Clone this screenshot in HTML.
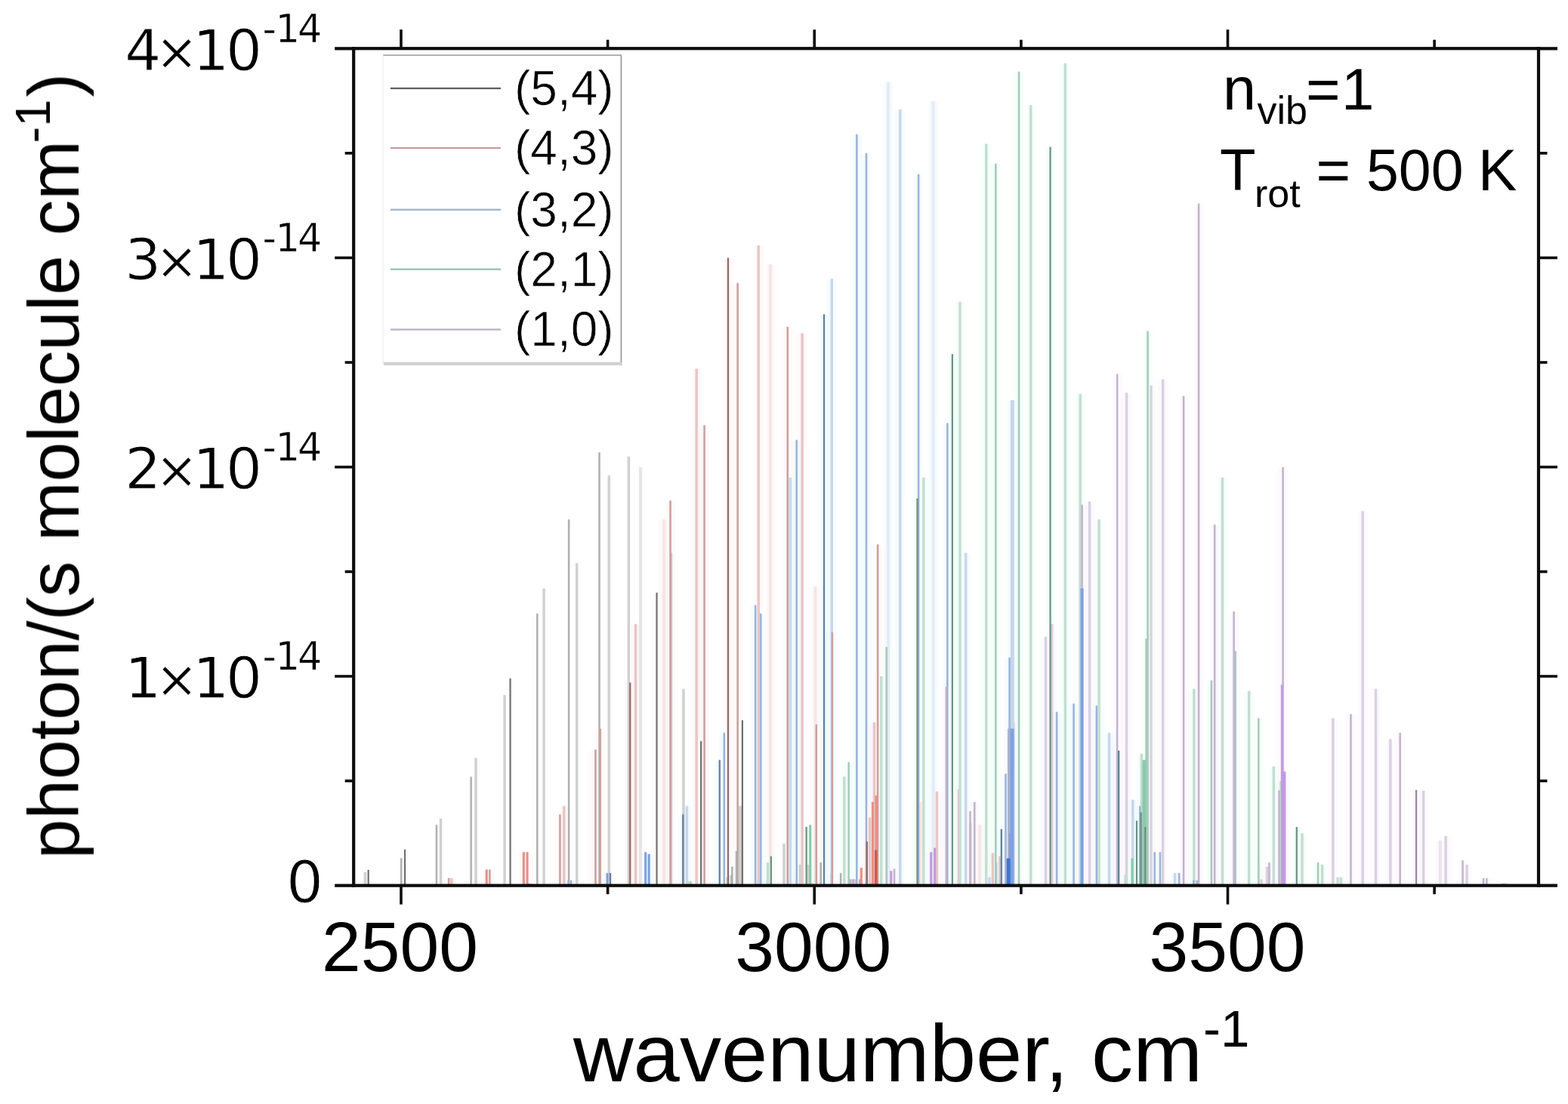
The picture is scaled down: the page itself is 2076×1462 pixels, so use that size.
<!DOCTYPE html>
<html><head><meta charset="utf-8"><title>OH vibrational bands</title>
<style>
html,body{margin:0;padding:0;background:#fff;}
svg{display:block}
text{font-family:"Liberation Sans",sans-serif;fill:#000}
.dj{font-family:"DejaVu Sans","Liberation Sans",sans-serif}
</style></head><body>
<svg width="2076" height="1462" viewBox="0 0 2076 1462">
<defs>
<filter id="hb" filterUnits="userSpaceOnUse" x="0" y="0" width="2076" height="1462"><feGaussianBlur stdDeviation="2.4 0.5"/></filter>
<filter id="b" filterUnits="userSpaceOnUse" x="0" y="0" width="2076" height="1462"><feGaussianBlur stdDeviation="0.5 0.6"/></filter>
<filter id="ab" filterUnits="userSpaceOnUse" x="0" y="0" width="2076" height="1462"><feGaussianBlur stdDeviation="0.6"/></filter>
<filter id="tb" filterUnits="userSpaceOnUse" x="0" y="0" width="2076" height="1462"><feGaussianBlur stdDeviation="0.55"/></filter></defs>
<rect width="2076" height="1462" fill="#fff"/>
<g>
<g filter="url(#hb)">
<rect x="1054.3" y="1146.0" width="10.0" height="26.7" fill="#fdfdfd"/>
<rect x="900.0" y="913.2" width="10.0" height="259.5" fill="#fdfdfd"/>
<rect x="1081.7" y="1143.2" width="10.0" height="29.5" fill="#fdfdfd"/>
<rect x="864.5" y="785.8" width="10.0" height="386.9" fill="#fdfdfd"/>
<rect x="1108.1" y="1157.1" width="10.0" height="15.6" fill="#fdfdfd"/>
<rect x="827.4" y="605.6" width="10.0" height="567.1" fill="#fdfdfd"/>
<rect x="1133.2" y="1165.4" width="10.0" height="7.3" fill="#fdfdfd"/>
<rect x="788.5" y="600.1" width="10.0" height="572.6" fill="#fdfdfd"/>
<rect x="1156.8" y="1170.4" width="10.0" height="2.3" fill="#fdfdfd"/>
<rect x="748.1" y="688.8" width="10.0" height="483.9" fill="#fdfdfd"/>
<rect x="706.3" y="813.5" width="10.0" height="359.2" fill="#fdfdfd"/>
<rect x="663.1" y="921.5" width="10.0" height="251.2" fill="#fdfdfd"/>
<rect x="618.6" y="1029.6" width="10.0" height="143.1" fill="#fdfdfd"/>
<rect x="573.0" y="1093.3" width="10.0" height="79.4" fill="#fdfdfd"/>
<rect x="526.2" y="1137.4" width="10.0" height="35.3" fill="#fdfdfd"/>
<rect x="478.4" y="1156.0" width="10.0" height="16.7" fill="#fdfdfd"/>
<rect x="1033.0" y="1118.3" width="10.0" height="54.4" fill="#fdfdfd"/>
<rect x="923.2" y="982.5" width="10.0" height="190.2" fill="#fdfdfd"/>
<rect x="1065.5" y="1146.0" width="10.0" height="26.7" fill="#fdfdfd"/>
<rect x="883.6" y="733.1" width="10.0" height="439.6" fill="#fdfdfd"/>
<rect x="1095.8" y="1157.1" width="10.0" height="15.6" fill="#fdfdfd"/>
<rect x="842.9" y="619.5" width="10.0" height="553.2" fill="#fdfdfd"/>
<rect x="1123.8" y="1165.4" width="10.0" height="7.3" fill="#fdfdfd"/>
<rect x="801.3" y="630.6" width="10.0" height="542.1" fill="#fdfdfd"/>
<rect x="1149.7" y="1170.4" width="10.0" height="2.3" fill="#fdfdfd"/>
<rect x="758.7" y="747.0" width="10.0" height="425.7" fill="#fdfdfd"/>
<rect x="715.1" y="780.2" width="10.0" height="392.5" fill="#fdfdfd"/>
<rect x="670.6" y="899.4" width="10.0" height="273.3" fill="#fdfdfd"/>
<rect x="625.0" y="1004.7" width="10.0" height="168.0" fill="#fdfdfd"/>
<rect x="578.5" y="1085.0" width="10.0" height="87.7" fill="#fdfdfd"/>
<rect x="531.1" y="1126.0" width="10.0" height="46.7" fill="#fdfdfd"/>
<rect x="482.7" y="1152.9" width="10.0" height="19.8" fill="#fdfdfd"/>
<rect x="1235.4" y="1049.0" width="10.0" height="123.7" fill="#fff5f5"/>
<rect x="1074.6" y="777.4" width="10.0" height="395.3" fill="#fff5f5"/>
<rect x="1264.3" y="1046.2" width="10.0" height="126.5" fill="#fff5f5"/>
<rect x="1037.8" y="433.8" width="10.0" height="738.9" fill="#fff5f5"/>
<rect x="1292.2" y="1093.3" width="10.0" height="79.4" fill="#fff5f5"/>
<rect x="999.2" y="325.8" width="10.0" height="846.9" fill="#fff5f5"/>
<rect x="1318.8" y="1134.9" width="10.0" height="37.8" fill="#fff5f5"/>
<rect x="959.0" y="342.4" width="10.0" height="830.3" fill="#fff5f5"/>
<rect x="1344.0" y="1165.4" width="10.0" height="7.3" fill="#fff5f5"/>
<rect x="917.2" y="489.3" width="10.0" height="683.4" fill="#fff5f5"/>
<rect x="873.9" y="688.8" width="10.0" height="483.9" fill="#fff5f5"/>
<rect x="829.3" y="904.9" width="10.0" height="267.8" fill="#fff5f5"/>
<rect x="783.4" y="993.6" width="10.0" height="179.1" fill="#fff5f5"/>
<rect x="736.4" y="1079.5" width="10.0" height="93.2" fill="#fff5f5"/>
<rect x="688.3" y="1129.4" width="10.0" height="43.3" fill="#fff5f5"/>
<rect x="639.2" y="1152.4" width="10.0" height="20.3" fill="#fff5f5"/>
<rect x="589.2" y="1163.7" width="10.0" height="9.0" fill="#fff5f5"/>
<rect x="1213.5" y="1062.9" width="10.0" height="109.8" fill="#fff5f5"/>
<rect x="1096.9" y="838.4" width="10.0" height="334.3" fill="#fff5f5"/>
<rect x="1057.1" y="442.2" width="10.0" height="730.5" fill="#fff5f5"/>
<rect x="1279.7" y="1090.6" width="10.0" height="82.1" fill="#fff5f5"/>
<rect x="1014.8" y="350.7" width="10.0" height="822.0" fill="#fff5f5"/>
<rect x="1309.4" y="1130.7" width="10.0" height="42.0" fill="#fff5f5"/>
<rect x="971.7" y="375.7" width="10.0" height="797.0" fill="#fff5f5"/>
<rect x="1336.8" y="1165.4" width="10.0" height="7.3" fill="#fff5f5"/>
<rect x="927.6" y="564.1" width="10.0" height="608.6" fill="#fff5f5"/>
<rect x="882.5" y="663.8" width="10.0" height="508.9" fill="#fff5f5"/>
<rect x="836.6" y="827.3" width="10.0" height="345.4" fill="#fff5f5"/>
<rect x="789.7" y="965.9" width="10.0" height="206.8" fill="#fff5f5"/>
<rect x="741.8" y="1068.4" width="10.0" height="104.3" fill="#fff5f5"/>
<rect x="693.0" y="1129.4" width="10.0" height="43.3" fill="#fff5f5"/>
<rect x="643.3" y="1152.4" width="10.0" height="20.3" fill="#fff5f5"/>
<rect x="592.8" y="1163.7" width="10.0" height="9.0" fill="#fff5f5"/>
<rect x="1416.6" y="932.6" width="10.0" height="240.1" fill="#f1f9ff"/>
<rect x="1249.3" y="561.3" width="10.0" height="611.4" fill="#f1f9ff"/>
<rect x="1446.9" y="935.4" width="10.0" height="237.3" fill="#f1f9ff"/>
<rect x="1211.1" y="231.6" width="10.0" height="941.1" fill="#f1f9ff"/>
<rect x="1476.2" y="995.0" width="10.0" height="177.7" fill="#f1f9ff"/>
<rect x="1171.1" y="109.6" width="10.0" height="1063.1" fill="#f1f9ff"/>
<rect x="1504.3" y="1068.4" width="10.0" height="104.3" fill="#f1f9ff"/>
<rect x="1129.4" y="178.9" width="10.0" height="993.8" fill="#f1f9ff"/>
<rect x="1531.0" y="1129.4" width="10.0" height="43.3" fill="#f1f9ff"/>
<rect x="1086.0" y="417.2" width="10.0" height="755.5" fill="#f1f9ff"/>
<rect x="1556.2" y="1157.1" width="10.0" height="15.6" fill="#f1f9ff"/>
<rect x="1041.3" y="633.4" width="10.0" height="539.3" fill="#f1f9ff"/>
<rect x="1579.7" y="1166.8" width="10.0" height="5.9" fill="#f1f9ff"/>
<rect x="995.1" y="802.4" width="10.0" height="370.3" fill="#f1f9ff"/>
<rect x="947.8" y="1007.4" width="10.0" height="165.3" fill="#f1f9ff"/>
<rect x="899.3" y="1079.5" width="10.0" height="93.2" fill="#f1f9ff"/>
<rect x="849.7" y="1129.4" width="10.0" height="43.3" fill="#f1f9ff"/>
<rect x="799.1" y="1157.1" width="10.0" height="15.6" fill="#f1f9ff"/>
<rect x="747.5" y="1166.8" width="10.0" height="5.9" fill="#f1f9ff"/>
<rect x="695.2" y="1170.9" width="10.0" height="1.8" fill="#f1f9ff"/>
<rect x="1394.1" y="943.7" width="10.0" height="229.0" fill="#f1f9ff"/>
<rect x="1273.7" y="733.1" width="10.0" height="439.6" fill="#f1f9ff"/>
<rect x="1427.5" y="780.2" width="10.0" height="392.5" fill="#f1f9ff"/>
<rect x="1230.7" y="134.6" width="10.0" height="1038.1" fill="#f1f9ff"/>
<rect x="1463.6" y="971.4" width="10.0" height="201.3" fill="#f1f9ff"/>
<rect x="1186.8" y="145.7" width="10.0" height="1027.0" fill="#f1f9ff"/>
<rect x="1494.8" y="1060.1" width="10.0" height="112.6" fill="#f1f9ff"/>
<rect x="1142.0" y="203.8" width="10.0" height="968.9" fill="#f1f9ff"/>
<rect x="1523.8" y="1129.4" width="10.0" height="43.3" fill="#f1f9ff"/>
<rect x="1096.3" y="370.1" width="10.0" height="802.6" fill="#f1f9ff"/>
<rect x="1550.6" y="1157.1" width="10.0" height="15.6" fill="#f1f9ff"/>
<rect x="1049.8" y="583.5" width="10.0" height="589.2" fill="#f1f9ff"/>
<rect x="1575.3" y="1166.8" width="10.0" height="5.9" fill="#f1f9ff"/>
<rect x="1002.3" y="813.5" width="10.0" height="359.2" fill="#f1f9ff"/>
<rect x="953.8" y="971.4" width="10.0" height="201.3" fill="#f1f9ff"/>
<rect x="904.5" y="1068.4" width="10.0" height="104.3" fill="#f1f9ff"/>
<rect x="854.2" y="1132.1" width="10.0" height="40.6" fill="#f1f9ff"/>
<rect x="803.0" y="1157.1" width="10.0" height="15.6" fill="#f1f9ff"/>
<rect x="751.1" y="1166.8" width="10.0" height="5.9" fill="#f1f9ff"/>
<rect x="698.3" y="1170.9" width="10.0" height="1.8" fill="#f1f9ff"/>
<rect x="1598.9" y="902.1" width="10.0" height="270.6" fill="#f0fff8"/>
<rect x="1425.2" y="522.5" width="10.0" height="650.2" fill="#f0fff8"/>
<rect x="1630.6" y="863.3" width="10.0" height="309.4" fill="#f0fff8"/>
<rect x="1385.6" y="195.5" width="10.0" height="977.2" fill="#f0fff8"/>
<rect x="1661.4" y="952.0" width="10.0" height="220.7" fill="#f0fff8"/>
<rect x="1344.0" y="95.8" width="10.0" height="1076.9" fill="#f0fff8"/>
<rect x="1690.9" y="1035.2" width="10.0" height="137.5" fill="#f0fff8"/>
<rect x="1300.8" y="191.4" width="10.0" height="981.3" fill="#f0fff8"/>
<rect x="1719.0" y="1104.4" width="10.0" height="68.3" fill="#f0fff8"/>
<rect x="1255.9" y="469.9" width="10.0" height="702.8" fill="#f0fff8"/>
<rect x="1745.6" y="1146.0" width="10.0" height="26.7" fill="#f0fff8"/>
<rect x="1209.5" y="661.1" width="10.0" height="511.6" fill="#f0fff8"/>
<rect x="1770.5" y="1162.6" width="10.0" height="10.1" fill="#f0fff8"/>
<rect x="1161.8" y="896.6" width="10.0" height="276.1" fill="#f0fff8"/>
<rect x="1112.8" y="1029.6" width="10.0" height="143.1" fill="#f0fff8"/>
<rect x="1062.7" y="1096.1" width="10.0" height="76.6" fill="#f0fff8"/>
<rect x="1011.4" y="1143.2" width="10.0" height="29.5" fill="#f0fff8"/>
<rect x="959.2" y="1159.8" width="10.0" height="12.9" fill="#f0fff8"/>
<rect x="906.1" y="1168.2" width="10.0" height="4.5" fill="#f0fff8"/>
<rect x="852.1" y="1171.5" width="10.0" height="1.2" fill="#f0fff8"/>
<rect x="1575.9" y="913.2" width="10.0" height="259.5" fill="#f0fff8"/>
<rect x="1450.1" y="688.8" width="10.0" height="483.9" fill="#f0fff8"/>
<rect x="1613.5" y="633.4" width="10.0" height="539.3" fill="#f0fff8"/>
<rect x="1405.4" y="84.7" width="10.0" height="1088.0" fill="#f0fff8"/>
<rect x="1648.6" y="916.0" width="10.0" height="256.7" fill="#f0fff8"/>
<rect x="1359.7" y="140.1" width="10.0" height="1032.6" fill="#f0fff8"/>
<rect x="1681.4" y="1015.8" width="10.0" height="156.9" fill="#f0fff8"/>
<rect x="1313.3" y="217.7" width="10.0" height="955.0" fill="#f0fff8"/>
<rect x="1711.8" y="1096.1" width="10.0" height="76.6" fill="#f0fff8"/>
<rect x="1266.0" y="400.6" width="10.0" height="772.1" fill="#f0fff8"/>
<rect x="1740.0" y="1143.2" width="10.0" height="29.5" fill="#f0fff8"/>
<rect x="1217.8" y="633.4" width="10.0" height="539.3" fill="#f0fff8"/>
<rect x="1766.1" y="1162.6" width="10.0" height="10.1" fill="#f0fff8"/>
<rect x="1168.7" y="857.8" width="10.0" height="314.9" fill="#f0fff8"/>
<rect x="1118.7" y="1010.2" width="10.0" height="162.5" fill="#f0fff8"/>
<rect x="1067.7" y="1093.3" width="10.0" height="79.4" fill="#f0fff8"/>
<rect x="1015.8" y="1134.9" width="10.0" height="37.8" fill="#f0fff8"/>
<rect x="963.1" y="1159.8" width="10.0" height="12.9" fill="#f0fff8"/>
<rect x="909.5" y="1168.2" width="10.0" height="4.5" fill="#f0fff8"/>
<rect x="855.1" y="1171.5" width="10.0" height="1.2" fill="#f0fff8"/>
<rect x="1783.4" y="946.5" width="10.0" height="226.2" fill="#fcf6ff"/>
<rect x="1603.2" y="695.7" width="10.0" height="477.0" fill="#fcf6ff"/>
<rect x="1816.5" y="913.2" width="10.0" height="259.5" fill="#fcf6ff"/>
<rect x="1562.1" y="525.3" width="10.0" height="647.4" fill="#fcf6ff"/>
<rect x="1848.7" y="971.4" width="10.0" height="201.3" fill="#fcf6ff"/>
<rect x="1519.0" y="511.4" width="10.0" height="661.3" fill="#fcf6ff"/>
<rect x="1879.6" y="1047.9" width="10.0" height="124.8" fill="#fcf6ff"/>
<rect x="1474.1" y="496.2" width="10.0" height="676.5" fill="#fcf6ff"/>
<rect x="1909.1" y="1108.0" width="10.0" height="64.7" fill="#fcf6ff"/>
<rect x="1427.6" y="669.4" width="10.0" height="503.3" fill="#fcf6ff"/>
<rect x="1937.1" y="1146.0" width="10.0" height="26.7" fill="#fcf6ff"/>
<rect x="1379.6" y="844.0" width="10.0" height="328.7" fill="#fcf6ff"/>
<rect x="1963.4" y="1164.0" width="10.0" height="8.7" fill="#fcf6ff"/>
<rect x="1330.2" y="965.9" width="10.0" height="206.8" fill="#fcf6ff"/>
<rect x="1987.9" y="1170.4" width="10.0" height="2.3" fill="#fcf6ff"/>
<rect x="1279.5" y="1075.3" width="10.0" height="97.4" fill="#fcf6ff"/>
<rect x="1227.7" y="1129.4" width="10.0" height="43.3" fill="#fcf6ff"/>
<rect x="1174.8" y="1154.3" width="10.0" height="18.4" fill="#fcf6ff"/>
<rect x="1120.9" y="1165.4" width="10.0" height="7.3" fill="#fcf6ff"/>
<rect x="1066.0" y="1170.4" width="10.0" height="2.3" fill="#fcf6ff"/>
<rect x="1759.8" y="952.0" width="10.0" height="220.7" fill="#fcf6ff"/>
<rect x="1628.6" y="810.7" width="10.0" height="362.0" fill="#fcf6ff"/>
<rect x="1799.1" y="677.7" width="10.0" height="495.0" fill="#fcf6ff"/>
<rect x="1582.1" y="270.4" width="10.0" height="902.3" fill="#fcf6ff"/>
<rect x="1835.8" y="979.7" width="10.0" height="193.0" fill="#fcf6ff"/>
<rect x="1534.7" y="503.1" width="10.0" height="669.6" fill="#fcf6ff"/>
<rect x="1870.0" y="1047.1" width="10.0" height="125.6" fill="#fcf6ff"/>
<rect x="1486.6" y="521.1" width="10.0" height="651.6" fill="#fcf6ff"/>
<rect x="1901.9" y="1114.1" width="10.0" height="58.6" fill="#fcf6ff"/>
<rect x="1437.6" y="665.2" width="10.0" height="507.5" fill="#fcf6ff"/>
<rect x="1931.6" y="1140.4" width="10.0" height="32.3" fill="#fcf6ff"/>
<rect x="1387.8" y="827.3" width="10.0" height="345.4" fill="#fcf6ff"/>
<rect x="1959.1" y="1164.0" width="10.0" height="8.7" fill="#fcf6ff"/>
<rect x="1337.0" y="957.6" width="10.0" height="215.1" fill="#fcf6ff"/>
<rect x="1984.4" y="1170.4" width="10.0" height="2.3" fill="#fcf6ff"/>
<rect x="1285.3" y="1062.9" width="10.0" height="109.8" fill="#fcf6ff"/>
<rect x="1232.6" y="1123.8" width="10.0" height="48.9" fill="#fcf6ff"/>
<rect x="1179.0" y="1151.5" width="10.0" height="21.2" fill="#fcf6ff"/>
<rect x="1124.6" y="1165.4" width="10.0" height="7.3" fill="#fcf6ff"/>
<rect x="1069.3" y="1170.4" width="10.0" height="2.3" fill="#fcf6ff"/>
<rect x="977.9" y="954.8" width="10.0" height="217.9" fill="#fdfdfd"/>
<rect x="975.0" y="1068.4" width="10.0" height="104.3" fill="#fdfdfd"/>
<rect x="970.0" y="1128.0" width="10.0" height="44.7" fill="#fdfdfd"/>
<rect x="964.4" y="1148.8" width="10.0" height="23.9" fill="#fdfdfd"/>
<rect x="958.0" y="1162.6" width="10.0" height="10.1" fill="#fdfdfd"/>
<rect x="1157.1" y="722.0" width="10.0" height="450.7" fill="#fff5f5"/>
<rect x="1155.0" y="1054.5" width="10.0" height="118.2" fill="#fff5f5"/>
<rect x="1154.7" y="1126.6" width="10.0" height="46.1" fill="#fff5f5"/>
<rect x="1152.5" y="957.6" width="10.0" height="215.1" fill="#fff5f5"/>
<rect x="1150.4" y="1062.9" width="10.0" height="109.8" fill="#fff5f5"/>
<rect x="1146.6" y="1083.6" width="10.0" height="89.1" fill="#fff5f5"/>
<rect x="1142.9" y="1115.5" width="10.0" height="57.2" fill="#fff5f5"/>
<rect x="1135.3" y="1150.1" width="10.0" height="22.6" fill="#fff5f5"/>
<rect x="1127.0" y="1165.4" width="10.0" height="7.3" fill="#fff5f5"/>
<rect x="1075.8" y="960.3" width="10.0" height="212.4" fill="#fff5f5"/>
<rect x="1335.3" y="530.8" width="10.0" height="641.9" fill="#f1f9ff"/>
<rect x="1335.0" y="965.9" width="10.0" height="206.8" fill="#f1f9ff"/>
<rect x="1331.6" y="871.7" width="10.0" height="301.0" fill="#f1f9ff"/>
<rect x="1333.0" y="1104.4" width="10.0" height="68.3" fill="#f1f9ff"/>
<rect x="1330.2" y="1137.7" width="10.0" height="35.0" fill="#f1f9ff"/>
<rect x="1326.5" y="1025.7" width="10.0" height="147.0" fill="#f1f9ff"/>
<rect x="1320.8" y="1098.9" width="10.0" height="73.8" fill="#f1f9ff"/>
<rect x="1314.0" y="1143.2" width="10.0" height="29.5" fill="#f1f9ff"/>
<rect x="1305.0" y="1162.6" width="10.0" height="10.1" fill="#f1f9ff"/>
<rect x="1514.6" y="439.4" width="10.0" height="733.3" fill="#f0fff8"/>
<rect x="1512.6" y="846.7" width="10.0" height="326.0" fill="#f0fff8"/>
<rect x="1510.0" y="1007.4" width="10.0" height="165.3" fill="#f0fff8"/>
<rect x="1511.3" y="1096.1" width="10.0" height="76.6" fill="#f0fff8"/>
<rect x="1505.7" y="1076.7" width="10.0" height="96.0" fill="#f0fff8"/>
<rect x="1506.4" y="999.1" width="10.0" height="173.6" fill="#f0fff8"/>
<rect x="1500.0" y="1087.8" width="10.0" height="84.9" fill="#f0fff8"/>
<rect x="1494.0" y="1137.7" width="10.0" height="35.0" fill="#f0fff8"/>
<rect x="1485.0" y="1159.8" width="10.0" height="12.9" fill="#f0fff8"/>
<rect x="1693.6" y="619.5" width="10.0" height="553.2" fill="#fcf6ff"/>
<rect x="1692.3" y="907.7" width="10.0" height="265.0" fill="#fcf6ff"/>
<rect x="1695.6" y="1022.7" width="10.0" height="150.0" fill="#fcf6ff"/>
<rect x="1688.5" y="1047.6" width="10.0" height="125.1" fill="#fcf6ff"/>
<rect x="1247.8" y="910.5" width="10.0" height="262.2" fill="#fcf6ff"/>
<rect x="1675.4" y="1143.2" width="10.0" height="29.5" fill="#fcf6ff"/>
<rect x="1672.5" y="1148.8" width="10.0" height="23.9" fill="#fcf6ff"/>
<rect x="1665.0" y="1165.4" width="10.0" height="7.3" fill="#fcf6ff"/>
</g>
<g filter="url(#b)">
<rect x="845.98" y="618.5" width="3.90" height="554.2" fill="#e5e5e5"/>
<rect x="1077.63" y="776.4" width="3.90" height="396.3" fill="#f5e6e6"/>
<rect x="1295.21" y="1092.3" width="3.90" height="80.4" fill="#f5e6e6"/>
<rect x="1347.07" y="1164.4" width="3.90" height="8.3" fill="#f5e6e6"/>
<rect x="876.94" y="687.8" width="3.90" height="484.9" fill="#f5e6e6"/>
<rect x="1216.53" y="1061.9" width="3.90" height="110.8" fill="#f5e6e6"/>
<rect x="1017.89" y="349.7" width="3.90" height="823.0" fill="#f5e6e6"/>
<rect x="1339.85" y="1164.4" width="3.90" height="8.3" fill="#f5e6e6"/>
<rect x="1174.14" y="108.6" width="3.90" height="1064.1" fill="#e5ebf4"/>
<rect x="1233.72" y="133.6" width="3.90" height="1039.1" fill="#e5ebf4"/>
<rect x="1904.96" y="1113.1" width="3.90" height="59.6" fill="#eae6ee"/>
<rect x="1057.57" y="1145.0" width="3.40" height="27.7" fill="#d0d0d0"/>
<rect x="903.27" y="912.2" width="3.40" height="260.5" fill="#d0d0d0"/>
<rect x="830.67" y="604.6" width="3.40" height="568.1" fill="#d0d0d0"/>
<rect x="1160.15" y="1169.4" width="3.40" height="3.3" fill="#d0d0d0"/>
<rect x="666.40" y="920.5" width="3.40" height="252.2" fill="#d0d0d0"/>
<rect x="481.71" y="1155.0" width="3.40" height="17.7" fill="#d0d0d0"/>
<rect x="1036.27" y="1117.3" width="3.40" height="55.4" fill="#d0d0d0"/>
<rect x="1068.83" y="1145.0" width="3.40" height="27.7" fill="#d0d0d0"/>
<rect x="886.89" y="732.1" width="3.40" height="440.6" fill="#d0d0d0"/>
<rect x="1099.11" y="1156.1" width="3.40" height="16.6" fill="#d0d0d0"/>
<rect x="1127.14" y="1164.4" width="3.40" height="8.3" fill="#d0d0d0"/>
<rect x="804.60" y="629.6" width="3.40" height="543.1" fill="#d0d0d0"/>
<rect x="762.00" y="746.0" width="3.40" height="426.7" fill="#d0d0d0"/>
<rect x="718.42" y="779.2" width="3.40" height="393.5" fill="#d0d0d0"/>
<rect x="628.33" y="1003.7" width="3.40" height="169.0" fill="#d0d0d0"/>
<rect x="581.82" y="1084.0" width="3.40" height="88.7" fill="#d0d0d0"/>
<rect x="1238.68" y="1048.0" width="3.40" height="124.7" fill="#e6c6c6"/>
<rect x="1267.60" y="1045.2" width="3.40" height="127.5" fill="#e6c6c6"/>
<rect x="1002.52" y="324.8" width="3.40" height="847.9" fill="#e6c6c6"/>
<rect x="1322.09" y="1133.9" width="3.40" height="38.8" fill="#e6c6c6"/>
<rect x="920.45" y="488.3" width="3.40" height="684.4" fill="#e6c6c6"/>
<rect x="1060.41" y="441.2" width="3.40" height="731.5" fill="#e6c6c6"/>
<rect x="1283.01" y="1089.6" width="3.40" height="83.1" fill="#e6c6c6"/>
<rect x="1312.66" y="1129.7" width="3.40" height="43.0" fill="#e6c6c6"/>
<rect x="839.88" y="826.3" width="3.40" height="346.4" fill="#e6c6c6"/>
<rect x="745.09" y="1067.4" width="3.40" height="105.3" fill="#e6c6c6"/>
<rect x="596.12" y="1162.7" width="3.40" height="10.0" fill="#e6c6c6"/>
<rect x="1044.55" y="632.4" width="3.40" height="540.3" fill="#c8d6ea"/>
<rect x="1276.97" y="732.1" width="3.40" height="440.6" fill="#c8d6ea"/>
<rect x="1466.89" y="970.4" width="3.40" height="202.3" fill="#c8d6ea"/>
<rect x="1190.05" y="144.7" width="3.40" height="1028.0" fill="#c8d6ea"/>
<rect x="1498.10" y="1059.1" width="3.40" height="113.6" fill="#c8d6ea"/>
<rect x="1099.62" y="369.1" width="3.40" height="803.6" fill="#c8d6ea"/>
<rect x="1553.87" y="1156.1" width="3.40" height="16.6" fill="#c8d6ea"/>
<rect x="907.76" y="1067.4" width="3.40" height="105.3" fill="#c8d6ea"/>
<rect x="701.60" y="1169.9" width="3.40" height="2.8" fill="#c8d6ea"/>
<rect x="1428.49" y="521.5" width="3.40" height="651.2" fill="#c6dcd2"/>
<rect x="1694.19" y="1034.2" width="3.40" height="138.5" fill="#c6dcd2"/>
<rect x="1304.06" y="190.4" width="3.40" height="982.3" fill="#c6dcd2"/>
<rect x="1722.31" y="1103.4" width="3.40" height="69.3" fill="#c6dcd2"/>
<rect x="1748.89" y="1145.0" width="3.40" height="27.7" fill="#c6dcd2"/>
<rect x="1773.80" y="1161.6" width="3.40" height="11.1" fill="#c6dcd2"/>
<rect x="1165.06" y="895.6" width="3.40" height="277.1" fill="#c6dcd2"/>
<rect x="1116.08" y="1028.6" width="3.40" height="144.1" fill="#c6dcd2"/>
<rect x="1014.74" y="1142.2" width="3.40" height="30.5" fill="#c6dcd2"/>
<rect x="909.40" y="1167.2" width="3.40" height="5.5" fill="#c6dcd2"/>
<rect x="1579.19" y="912.2" width="3.40" height="260.5" fill="#c6dcd2"/>
<rect x="1453.41" y="687.8" width="3.40" height="484.9" fill="#c6dcd2"/>
<rect x="1616.81" y="632.4" width="3.40" height="540.3" fill="#c6dcd2"/>
<rect x="1408.66" y="83.7" width="3.40" height="1089.0" fill="#c6dcd2"/>
<rect x="1651.94" y="915.0" width="3.40" height="257.7" fill="#c6dcd2"/>
<rect x="1363.04" y="139.1" width="3.40" height="1033.6" fill="#c6dcd2"/>
<rect x="1684.65" y="1014.8" width="3.40" height="157.9" fill="#c6dcd2"/>
<rect x="1269.31" y="399.6" width="3.40" height="773.1" fill="#c6dcd2"/>
<rect x="1221.13" y="632.4" width="3.40" height="540.3" fill="#c6dcd2"/>
<rect x="1769.44" y="1161.6" width="3.40" height="11.1" fill="#c6dcd2"/>
<rect x="858.44" y="1170.5" width="3.40" height="2.2" fill="#c6dcd2"/>
<rect x="1819.83" y="912.2" width="3.40" height="260.5" fill="#d8d1e0"/>
<rect x="1522.29" y="510.4" width="3.40" height="662.3" fill="#d8d1e0"/>
<rect x="1882.90" y="1046.9" width="3.40" height="125.8" fill="#d8d1e0"/>
<rect x="1912.44" y="1107.0" width="3.40" height="65.7" fill="#d8d1e0"/>
<rect x="1940.41" y="1145.0" width="3.40" height="27.7" fill="#d8d1e0"/>
<rect x="1382.85" y="843.0" width="3.40" height="329.7" fill="#d8d1e0"/>
<rect x="1991.18" y="1169.4" width="3.40" height="3.3" fill="#d8d1e0"/>
<rect x="1069.33" y="1169.4" width="3.40" height="3.3" fill="#d8d1e0"/>
<rect x="1763.13" y="951.0" width="3.40" height="221.7" fill="#d8d1e0"/>
<rect x="1802.43" y="676.7" width="3.40" height="496.0" fill="#d8d1e0"/>
<rect x="1839.13" y="978.7" width="3.40" height="194.0" fill="#d8d1e0"/>
<rect x="1538.01" y="502.1" width="3.40" height="670.6" fill="#d8d1e0"/>
<rect x="1489.87" y="520.1" width="3.40" height="652.6" fill="#d8d1e0"/>
<rect x="1440.91" y="664.2" width="3.40" height="508.5" fill="#d8d1e0"/>
<rect x="1391.06" y="826.3" width="3.40" height="346.4" fill="#d8d1e0"/>
<rect x="1340.28" y="956.6" width="3.40" height="216.1" fill="#d8d1e0"/>
<rect x="1987.75" y="1169.4" width="3.40" height="3.3" fill="#d8d1e0"/>
<rect x="1072.63" y="1169.4" width="3.40" height="3.3" fill="#d8d1e0"/>
<rect x="978.00" y="1067.4" width="4.00" height="105.3" fill="#d0d0d0"/>
<rect x="961.30" y="1161.6" width="3.40" height="11.1" fill="#d0d0d0"/>
<rect x="1155.80" y="956.6" width="3.40" height="216.1" fill="#e6c6c6"/>
<rect x="1149.90" y="1082.6" width="3.40" height="90.1" fill="#e6c6c6"/>
<rect x="1130.30" y="1164.4" width="3.40" height="8.3" fill="#e6c6c6"/>
<rect x="1337.80" y="529.8" width="5.00" height="642.9" fill="#c8d6ea"/>
<rect x="1317.30" y="1142.2" width="3.40" height="30.5" fill="#c8d6ea"/>
<rect x="1308.30" y="1161.6" width="3.40" height="11.1" fill="#c8d6ea"/>
<rect x="1509.70" y="998.1" width="3.40" height="174.6" fill="#c6dcd2"/>
<rect x="1488.30" y="1158.8" width="3.40" height="13.9" fill="#c6dcd2"/>
<rect x="1675.80" y="1147.8" width="3.40" height="24.9" fill="#d8d1e0"/>
<rect x="1668.30" y="1164.4" width="3.40" height="8.3" fill="#d8d1e0"/>
<rect x="1085.50" y="1142.2" width="2.50" height="30.5" fill="#b0b0b0"/>
<rect x="1111.86" y="1156.1" width="2.50" height="16.6" fill="#b0b0b0"/>
<rect x="1136.94" y="1164.4" width="2.50" height="8.3" fill="#b0b0b0"/>
<rect x="792.29" y="599.1" width="2.50" height="573.6" fill="#b0b0b0"/>
<rect x="751.89" y="687.8" width="2.50" height="484.9" fill="#b0b0b0"/>
<rect x="710.05" y="812.5" width="2.50" height="360.2" fill="#b0b0b0"/>
<rect x="622.39" y="1028.6" width="2.50" height="144.1" fill="#b0b0b0"/>
<rect x="576.74" y="1092.3" width="2.50" height="80.4" fill="#b0b0b0"/>
<rect x="529.97" y="1136.4" width="2.50" height="36.3" fill="#b0b0b0"/>
<rect x="1153.42" y="1169.4" width="2.50" height="3.3" fill="#b0b0b0"/>
<rect x="1041.54" y="432.8" width="2.50" height="739.9" fill="#c8a09e"/>
<rect x="787.19" y="992.6" width="2.50" height="180.1" fill="#c8a09e"/>
<rect x="740.18" y="1078.5" width="2.50" height="94.2" fill="#c8a09e"/>
<rect x="592.91" y="1162.7" width="2.50" height="10.0" fill="#c8a09e"/>
<rect x="1100.63" y="837.4" width="2.50" height="335.3" fill="#c8a09e"/>
<rect x="975.41" y="374.7" width="2.50" height="798.0" fill="#c8a09e"/>
<rect x="931.32" y="563.1" width="2.50" height="609.6" fill="#c8a09e"/>
<rect x="886.30" y="662.8" width="2.50" height="509.9" fill="#c8a09e"/>
<rect x="793.41" y="964.9" width="2.50" height="207.8" fill="#c8a09e"/>
<rect x="647.09" y="1151.4" width="2.50" height="21.3" fill="#c8a09e"/>
<rect x="1420.31" y="931.6" width="2.50" height="241.1" fill="#9cb2d6"/>
<rect x="1253.05" y="560.3" width="2.50" height="612.4" fill="#9cb2d6"/>
<rect x="1450.64" y="934.4" width="2.50" height="238.3" fill="#9cb2d6"/>
<rect x="1214.86" y="230.6" width="2.50" height="942.1" fill="#9cb2d6"/>
<rect x="1508.04" y="1067.4" width="2.50" height="105.3" fill="#9cb2d6"/>
<rect x="1133.10" y="177.9" width="2.50" height="994.8" fill="#9cb2d6"/>
<rect x="1534.74" y="1128.4" width="2.50" height="44.3" fill="#9cb2d6"/>
<rect x="1559.90" y="1156.1" width="2.50" height="16.6" fill="#9cb2d6"/>
<rect x="1583.41" y="1165.8" width="2.50" height="6.9" fill="#9cb2d6"/>
<rect x="998.88" y="801.4" width="2.50" height="371.3" fill="#9cb2d6"/>
<rect x="751.30" y="1165.8" width="2.50" height="6.9" fill="#9cb2d6"/>
<rect x="698.90" y="1169.9" width="2.50" height="2.8" fill="#9cb2d6"/>
<rect x="1397.83" y="942.7" width="2.50" height="230.0" fill="#9cb2d6"/>
<rect x="1145.72" y="202.8" width="2.50" height="969.9" fill="#9cb2d6"/>
<rect x="1527.51" y="1128.4" width="2.50" height="44.3" fill="#9cb2d6"/>
<rect x="1053.50" y="582.5" width="2.50" height="590.2" fill="#9cb2d6"/>
<rect x="1579.04" y="1165.8" width="2.50" height="6.9" fill="#9cb2d6"/>
<rect x="1006.01" y="812.5" width="2.50" height="360.2" fill="#9cb2d6"/>
<rect x="957.57" y="970.4" width="2.50" height="202.3" fill="#9cb2d6"/>
<rect x="754.82" y="1165.8" width="2.50" height="6.9" fill="#9cb2d6"/>
<rect x="1602.69" y="901.1" width="2.50" height="271.6" fill="#a8c8ba"/>
<rect x="1634.39" y="862.3" width="2.50" height="310.4" fill="#a8c8ba"/>
<rect x="1665.12" y="951.0" width="2.50" height="221.7" fill="#a8c8ba"/>
<rect x="1347.79" y="94.8" width="2.50" height="1077.9" fill="#a8c8ba"/>
<rect x="962.99" y="1158.8" width="2.50" height="13.9" fill="#a8c8ba"/>
<rect x="855.86" y="1170.5" width="2.50" height="2.2" fill="#a8c8ba"/>
<rect x="1317.05" y="216.7" width="2.50" height="956.0" fill="#a8c8ba"/>
<rect x="1743.77" y="1142.2" width="2.50" height="30.5" fill="#a8c8ba"/>
<rect x="1172.48" y="856.8" width="2.50" height="315.9" fill="#a8c8ba"/>
<rect x="1122.43" y="1009.2" width="2.50" height="163.5" fill="#a8c8ba"/>
<rect x="966.83" y="1158.8" width="2.50" height="13.9" fill="#a8c8ba"/>
<rect x="913.25" y="1167.2" width="2.50" height="5.5" fill="#a8c8ba"/>
<rect x="1787.19" y="945.5" width="2.50" height="227.2" fill="#bfb4c9"/>
<rect x="1606.91" y="694.7" width="2.50" height="478.0" fill="#bfb4c9"/>
<rect x="1565.81" y="524.3" width="2.50" height="648.4" fill="#bfb4c9"/>
<rect x="1852.41" y="970.4" width="2.50" height="202.3" fill="#bfb4c9"/>
<rect x="1477.86" y="495.2" width="2.50" height="677.5" fill="#bfb4c9"/>
<rect x="1431.33" y="668.4" width="2.50" height="504.3" fill="#bfb4c9"/>
<rect x="1967.14" y="1163.0" width="2.50" height="9.7" fill="#bfb4c9"/>
<rect x="1333.91" y="964.9" width="2.50" height="207.8" fill="#bfb4c9"/>
<rect x="1283.26" y="1074.3" width="2.50" height="98.4" fill="#bfb4c9"/>
<rect x="1124.62" y="1164.4" width="2.50" height="8.3" fill="#bfb4c9"/>
<rect x="1632.35" y="809.7" width="2.50" height="363.0" fill="#bfb4c9"/>
<rect x="1585.81" y="269.4" width="2.50" height="903.3" fill="#bfb4c9"/>
<rect x="1935.31" y="1139.4" width="2.50" height="33.3" fill="#bfb4c9"/>
<rect x="1962.81" y="1163.0" width="2.50" height="9.7" fill="#bfb4c9"/>
<rect x="1289.01" y="1061.9" width="2.50" height="110.8" fill="#bfb4c9"/>
<rect x="1182.79" y="1150.5" width="2.50" height="22.2" fill="#bfb4c9"/>
<rect x="1128.35" y="1164.4" width="2.50" height="8.3" fill="#bfb4c9"/>
<rect x="973.75" y="1127.0" width="2.50" height="45.7" fill="#b0b0b0"/>
<rect x="968.15" y="1147.8" width="2.50" height="24.9" fill="#b0b0b0"/>
<rect x="1160.85" y="721.0" width="2.50" height="451.7" fill="#c8a09e"/>
<rect x="1079.55" y="959.3" width="2.50" height="213.4" fill="#c8a09e"/>
<rect x="1335.35" y="870.7" width="2.50" height="302.0" fill="#9cb2d6"/>
<rect x="1330.25" y="1024.7" width="2.50" height="148.0" fill="#9cb2d6"/>
<rect x="1518.35" y="438.4" width="2.50" height="734.3" fill="#a8c8ba"/>
<rect x="1516.35" y="845.7" width="2.50" height="327.0" fill="#a8c8ba"/>
<rect x="1697.35" y="618.5" width="2.50" height="554.2" fill="#bfb4c9"/>
<rect x="1692.25" y="1046.6" width="2.50" height="126.1" fill="#bfb4c9"/>
<rect x="1251.55" y="909.5" width="2.50" height="263.2" fill="#bfb4c9"/>
<rect x="1679.15" y="1142.2" width="2.50" height="30.5" fill="#bfb4c9"/>
<rect x="691.79" y="1128.4" width="3.10" height="44.3" fill="#e89088"/>
<rect x="642.68" y="1151.4" width="3.10" height="21.3" fill="#e89088"/>
<rect x="696.46" y="1128.4" width="3.10" height="44.3" fill="#e89088"/>
<rect x="853.12" y="1128.4" width="3.10" height="44.3" fill="#7fa2e0"/>
<rect x="802.52" y="1156.1" width="3.10" height="16.6" fill="#7fa2e0"/>
<rect x="1430.44" y="779.2" width="4.20" height="393.5" fill="#7fa2e0"/>
<rect x="857.64" y="1131.1" width="3.10" height="41.6" fill="#7fa2e0"/>
<rect x="1071.16" y="1092.3" width="3.10" height="80.4" fill="#86ccaa"/>
<rect x="1231.13" y="1128.4" width="3.10" height="44.3" fill="#c29ae0"/>
<rect x="1178.23" y="1153.3" width="3.10" height="19.4" fill="#c29ae0"/>
<rect x="1236.06" y="1122.8" width="3.10" height="49.9" fill="#c29ae0"/>
<rect x="1158.45" y="1053.5" width="3.10" height="119.2" fill="#e89088"/>
<rect x="1153.85" y="1061.9" width="3.10" height="110.8" fill="#e89088"/>
<rect x="1138.75" y="1149.1" width="3.10" height="23.6" fill="#e89088"/>
<rect x="1337.50" y="964.9" width="5.00" height="207.8" fill="#7fa2e0"/>
<rect x="1336.00" y="1103.4" width="4.00" height="69.3" fill="#7fa2e0"/>
<rect x="1512.50" y="1006.4" width="5.00" height="166.3" fill="#86ccaa"/>
<rect x="1497.45" y="1136.7" width="3.10" height="36.0" fill="#86ccaa"/>
<rect x="1695.80" y="906.7" width="3.00" height="266.0" fill="#c29ae0"/>
<rect x="1698.85" y="1021.7" width="3.50" height="151.0" fill="#c29ae0"/>
<rect x="868.44" y="784.8" width="2.20" height="387.9" fill="#707070"/>
<rect x="927.07" y="981.5" width="2.20" height="191.2" fill="#707070"/>
<rect x="674.47" y="898.4" width="2.20" height="274.3" fill="#707070"/>
<rect x="534.96" y="1125.0" width="2.20" height="47.7" fill="#707070"/>
<rect x="486.58" y="1151.9" width="2.20" height="20.8" fill="#707070"/>
<rect x="962.87" y="341.4" width="2.20" height="831.3" fill="#8e6a68"/>
<rect x="833.19" y="903.9" width="2.20" height="268.8" fill="#8e6a68"/>
<rect x="1480.09" y="994.0" width="2.20" height="178.7" fill="#607e9a"/>
<rect x="1089.93" y="416.2" width="2.20" height="756.5" fill="#607e9a"/>
<rect x="951.67" y="1006.4" width="2.20" height="166.3" fill="#607e9a"/>
<rect x="903.16" y="1078.5" width="2.20" height="94.2" fill="#607e9a"/>
<rect x="806.95" y="1156.1" width="2.20" height="16.6" fill="#607e9a"/>
<rect x="1389.47" y="194.5" width="2.20" height="978.2" fill="#6c9080"/>
<rect x="1259.76" y="468.9" width="2.20" height="703.8" fill="#6c9080"/>
<rect x="1213.38" y="660.1" width="2.20" height="512.6" fill="#6c9080"/>
<rect x="1066.55" y="1095.1" width="2.20" height="77.6" fill="#6c9080"/>
<rect x="1715.68" y="1095.1" width="2.20" height="77.6" fill="#6c9080"/>
<rect x="1019.73" y="1133.9" width="2.20" height="38.8" fill="#6c9080"/>
<rect x="1873.95" y="1046.1" width="2.20" height="126.6" fill="#94889e"/>
<rect x="981.80" y="953.8" width="2.20" height="218.9" fill="#707070"/>
<rect x="1146.80" y="1114.5" width="2.20" height="58.2" fill="#8e6a68"/>
<rect x="1324.70" y="1097.9" width="2.20" height="74.8" fill="#607e9a"/>
<rect x="1515.20" y="1095.1" width="2.20" height="77.6" fill="#6c9080"/>
<rect x="1509.60" y="1075.7" width="2.20" height="97.0" fill="#6c9080"/>
<rect x="1503.90" y="1086.8" width="2.20" height="85.9" fill="#6c9080"/>
<rect x="1157.95" y="1125.6" width="3.50" height="47.1" fill="#d8564a"/>
<rect x="1332.70" y="1136.7" width="5.00" height="36.0" fill="#3f74d2"/>
</g>
</g>
<g fill="#0a0a0a" filter="url(#ab)">
<rect x="466.10" y="62.10" width="4.20" height="1112.70"/>
<rect x="2034.90" y="62.10" width="4.20" height="1112.70"/>
<rect x="466.10" y="62.10" width="1573.00" height="4.20"/>
<rect x="466.10" y="1170.60" width="1573.00" height="4.20"/>
<rect x="443.20" y="1170.60" width="25.00" height="4.20"/>
<rect x="2037.00" y="1170.60" width="25.00" height="4.20"/>
<rect x="456.70" y="1032.35" width="11.50" height="3.60"/>
<rect x="2037.00" y="1032.35" width="11.50" height="3.60"/>
<rect x="443.20" y="893.80" width="25.00" height="3.60"/>
<rect x="2037.00" y="893.80" width="25.00" height="3.60"/>
<rect x="456.70" y="755.25" width="11.50" height="3.60"/>
<rect x="2037.00" y="755.25" width="11.50" height="3.60"/>
<rect x="443.20" y="616.70" width="25.00" height="3.60"/>
<rect x="2037.00" y="616.70" width="25.00" height="3.60"/>
<rect x="456.70" y="478.15" width="11.50" height="3.60"/>
<rect x="2037.00" y="478.15" width="11.50" height="3.60"/>
<rect x="443.20" y="339.60" width="25.00" height="3.60"/>
<rect x="2037.00" y="339.60" width="25.00" height="3.60"/>
<rect x="456.70" y="201.05" width="11.50" height="3.60"/>
<rect x="2037.00" y="201.05" width="11.50" height="3.60"/>
<rect x="443.20" y="62.20" width="25.00" height="4.20"/>
<rect x="2037.00" y="62.20" width="25.00" height="4.20"/>
<rect x="529.20" y="1172.70" width="3.60" height="25.00"/>
<rect x="529.20" y="39.20" width="3.60" height="25.00"/>
<rect x="802.83" y="1172.70" width="3.60" height="11.50"/>
<rect x="802.83" y="52.70" width="3.60" height="11.50"/>
<rect x="1076.45" y="1172.70" width="3.60" height="25.00"/>
<rect x="1076.45" y="39.20" width="3.60" height="25.00"/>
<rect x="1350.08" y="1172.70" width="3.60" height="11.50"/>
<rect x="1350.08" y="52.70" width="3.60" height="11.50"/>
<rect x="1623.70" y="1172.70" width="3.60" height="25.00"/>
<rect x="1623.70" y="39.20" width="3.60" height="25.00"/>
<rect x="1897.33" y="1172.70" width="3.60" height="11.50"/>
<rect x="1897.33" y="52.70" width="3.60" height="11.50"/>
</g>
<g filter="url(#tb)">
<text x="529.5" y="1286" font-size="93" text-anchor="middle">2500</text>
<text x="1076.7" y="1286" font-size="93" text-anchor="middle">3000</text>
<text x="1625.0" y="1286" font-size="93" text-anchor="middle">3500</text>
<text x="759" y="1431.8" font-size="108" textLength="833" lengthAdjust="spacingAndGlyphs">wavenumber, cm</text>
<text x="1593" y="1385.5" font-size="69">-1</text>
<text class="dj" y="93.0" font-size="75.5" stroke="#fff" stroke-width="0.9"><tspan x="165.3">4</tspan><tspan x="205.5" font-size="68" dy="-1.5">×</tspan><tspan x="255.3" dy="1.5">1</tspan><tspan x="299">0</tspan></text>
<text class="dj" y="56.0" font-size="51.2" stroke="#fff" stroke-width="0.6"><tspan x="347.5">-</tspan><tspan x="364.5">1</tspan><tspan x="394">4</tspan></text>
<text class="dj" y="370.1" font-size="75.5" stroke="#fff" stroke-width="0.9"><tspan x="165.3">3</tspan><tspan x="205.5" font-size="68" dy="-1.5">×</tspan><tspan x="255.3" dy="1.5">1</tspan><tspan x="299">0</tspan></text>
<text class="dj" y="333.1" font-size="51.2" stroke="#fff" stroke-width="0.6"><tspan x="347.5">-</tspan><tspan x="364.5">1</tspan><tspan x="394">4</tspan></text>
<text class="dj" y="647.2" font-size="75.5" stroke="#fff" stroke-width="0.9"><tspan x="165.3">2</tspan><tspan x="205.5" font-size="68" dy="-1.5">×</tspan><tspan x="255.3" dy="1.5">1</tspan><tspan x="299">0</tspan></text>
<text class="dj" y="610.2" font-size="51.2" stroke="#fff" stroke-width="0.6"><tspan x="347.5">-</tspan><tspan x="364.5">1</tspan><tspan x="394">4</tspan></text>
<text class="dj" y="924.3" font-size="75.5" stroke="#fff" stroke-width="0.9"><tspan x="165.3">1</tspan><tspan x="205.5" font-size="68" dy="-1.5">×</tspan><tspan x="255.3" dy="1.5">1</tspan><tspan x="299">0</tspan></text>
<text class="dj" y="887.3" font-size="51.2" stroke="#fff" stroke-width="0.6"><tspan x="347.5">-</tspan><tspan x="364.5">1</tspan><tspan x="394">4</tspan></text>
<text class="dj" x="379" y="1195" font-size="77" stroke="#fff" stroke-width="0.9">0</text>
<g transform="translate(104,1137.5) rotate(-90)"><text x="0" y="0" font-size="94.6">photon/(s molecule cm</text><text x="948" y="-38" font-size="65">-1</text><text x="1009" y="0" font-size="94.6">)</text></g>
<text x="1619" y="145" font-size="79">n</text><text x="1664.5" y="164" font-size="52">vib</text><text x="1729" y="145" font-size="78">=</text><text x="1776" y="145" font-size="78">1</text>
<text x="1615" y="251.6" font-size="78">T</text><text x="1661" y="274" font-size="52">rot</text><text x="1742.5" y="251.6" font-size="78">=</text><text x="1809" y="251.6" font-size="77">500</text><text x="1957" y="251.6" font-size="77">K</text>
</g>
<g filter="url(#tb)">
<rect x="507" y="73" width="316" height="409" fill="#fff"/>
<rect x="507" y="72.2" width="316" height="1.8" fill="#a8a8a8"/>
<rect x="506.5" y="73" width="1.2" height="409" fill="#eeeeee"/>
<rect x="821.6" y="73" width="1.7" height="411" fill="#989898"/>
<rect x="508" y="479.5" width="315" height="4.2" fill="#d0d0d0"/>
<rect x="517" y="115.85" width="146" height="2.3" fill="#606060"/>
<text x="681" y="139" font-size="64" stroke="#fff" stroke-width="0.7">(5,4)</text>
<rect x="517" y="194.85" width="146" height="2.3" fill="#cc9a9a"/>
<text x="681" y="217.8" font-size="64" stroke="#fff" stroke-width="0.7">(4,3)</text>
<rect x="517" y="276.55" width="146" height="2.3" fill="#9cb4c8"/>
<text x="681" y="300.3" font-size="64" stroke="#fff" stroke-width="0.7">(3,2)</text>
<rect x="517" y="355.45000000000005" width="146" height="2.3" fill="#9abcae"/>
<text x="681" y="379.2" font-size="64" stroke="#fff" stroke-width="0.7">(2,1)</text>
<rect x="517" y="435.25" width="146" height="2.3" fill="#bcaec4"/>
<text x="681" y="458" font-size="64" stroke="#fff" stroke-width="0.7">(1,0)</text>
</g>
</svg>
</body></html>
